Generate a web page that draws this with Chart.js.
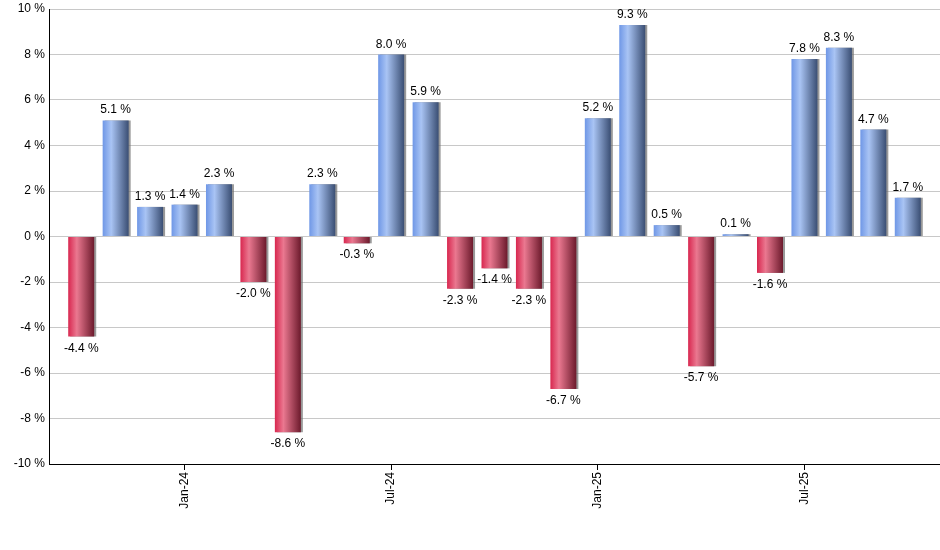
<!DOCTYPE html>
<html>
<head>
<meta charset="utf-8">
<script src="https://cdn.jsdelivr.net/npm/chart.js@4/dist/chart.umd.min.js"></script>
<style>
  html, body { margin: 0; padding: 0; background: #ffffff; }
  #wrap { width: 940px; height: 550px; }
</style>
</head>
<body>
<div id="wrap"><canvas id="c" width="940" height="550"></canvas></div>
<script>
const months = ['Oct-23','Nov-23','Dec-23','Jan-24','Feb-24','Mar-24','Apr-24','May-24','Jun-24','Jul-24','Aug-24','Sep-24','Oct-24','Nov-24','Dec-24','Jan-25','Feb-25','Mar-25','Apr-25','May-25','Jun-25','Jul-25','Aug-25','Sep-25','Oct-25'];
const returns = [-4.4, 5.1, 1.3, 1.4, 2.3, -2.0, -8.6, 2.3, -0.3, 8.0, 5.9, -2.3, -1.4, -2.3, -6.7, 5.2, 9.3, 0.5, -5.7, 0.1, -1.6, 7.8, 8.3, 4.7, 1.7];
const yTicks = [-10, -8, -6, -4, -2, 0, 2, 4, 6, 8, 10];
const shownMonths = ['Jan', 'Jul'];

const FONT = '"Liberation Sans", Arial, sans-serif';
const BAR_PCT = 0.755;

function barGradient(ctx) {
  const chart = ctx.chart;
  const xs = chart.scales.x;
  if (!xs || !chart.chartArea) return '#7fa3e8';
  const v = ctx.raw;
  const cx = xs.getPixelForValue(ctx.dataIndex);
  const half = (xs._length / months.length) * BAR_PCT / 2;
  const g = chart.ctx.createLinearGradient(cx - half, 0, cx + half, 0);
  if (v >= 0) {
    g.addColorStop(0, '#6f97e6');
    g.addColorStop(0.33, '#a9c4f4');
    g.addColorStop(1, '#3a4e73');
  } else {
    g.addColorStop(0, '#d8274f');
    g.addColorStop(0.33, '#ea7890');
    g.addColorStop(1, '#6c1a2c');
  }
  return g;
}

const insetPlugin = {
  id: 'inset',
  afterLayout(chart) {
    const s = chart.scales.x;
    s._startPixel = s.left + 15;
    s._endPixel = s.right - 15;
    s._length = s._endPixel - s._startPixel;
  }
};

const shadowPlugin = {
  id: 'barShadow',
  beforeDatasetsDraw(chart) {
    const c = chart.ctx;
    c.save();
    c.shadowColor = 'rgba(110,110,110,0.7)';
    c.shadowOffsetX = 2;
    c.shadowOffsetY = 0;
    c.shadowBlur = 0;
  },
  afterDatasetsDraw(chart) {
    chart.ctx.restore();
  }
};

const labelPlugin = {
  id: 'barLabels',
  afterDatasetsDraw(chart) {
    const c = chart.ctx;
    const meta = chart.getDatasetMeta(0);
    c.save();
    c.font = '12px ' + FONT;
    c.fillStyle = '#000000';
    c.textAlign = 'center';
    c.textBaseline = 'alphabetic';
    meta.data.forEach((el, i) => {
      const v = returns[i];
      const txt = v.toFixed(1) + ' %';
      if (v >= 0) c.fillText(txt, el.x, el.y - 7);
      else c.fillText(txt, el.x, el.y + 15);
    });
    c.restore();
  }
};

new Chart(document.getElementById('c'), {
  type: 'bar',
  data: {
    labels: months,
    datasets: [{
      data: returns,
      backgroundColor: barGradient,
      borderWidth: 0,
      barPercentage: BAR_PCT,
      categoryPercentage: 1.0
    }]
  },
  options: {
    responsive: false,
    animation: false,
    layout: { padding: { top: 9, right: 0, left: 0, bottom: 0 } },
    plugins: {
      legend: { display: false },
      tooltip: { enabled: false }
    },
    scales: {
      x: {
        offset: true,
        grid: {
          offset: false,
          drawOnChartArea: false,
          drawTicks: true,
          tickLength: 6,
          tickWidth: 1,
          tickColor: (ctx) => {
            const m = months[ctx.index] || '';
            return shownMonths.includes(m.slice(0, 3)) ? '#000000' : 'rgba(0,0,0,0)';
          }
        },
        border: { display: true, color: '#000000', width: 1 },
        ticks: {
          autoSkip: false,
          maxRotation: 90,
          minRotation: 90,
          padding: 2,
          color: '#000000',
          font: { size: 12, family: FONT },
          callback: function(value, index) {
            const m = months[index];
            return shownMonths.includes(m.slice(0, 3)) ? m : '';
          }
        },
        afterFit(scale) {
          scale.height = 86;
          scale.paddingLeft = 0;
          scale.paddingRight = 0;
        }
      },
      y: {
        min: yTicks[0],
        max: yTicks[yTicks.length - 1],
        afterBuildTicks(scale) { scale.ticks = yTicks.map(v => ({ value: v })); },
        grid: {
          color: '#c8c8c8',
          lineWidth: 1,
          drawTicks: false
        },
        border: { display: true, color: '#000000', width: 1 },
        ticks: {
          padding: 4,
          color: '#000000',
          font: { size: 12, family: FONT },
          callback: (v) => v + ' %'
        },
        afterFit(scale) {
          scale.width = 49;
          scale.paddingTop = 0;
          scale.paddingBottom = 0;
        }
      }
    }
  },
  plugins: [insetPlugin, shadowPlugin, labelPlugin]
});
</script>
</body>
</html>
